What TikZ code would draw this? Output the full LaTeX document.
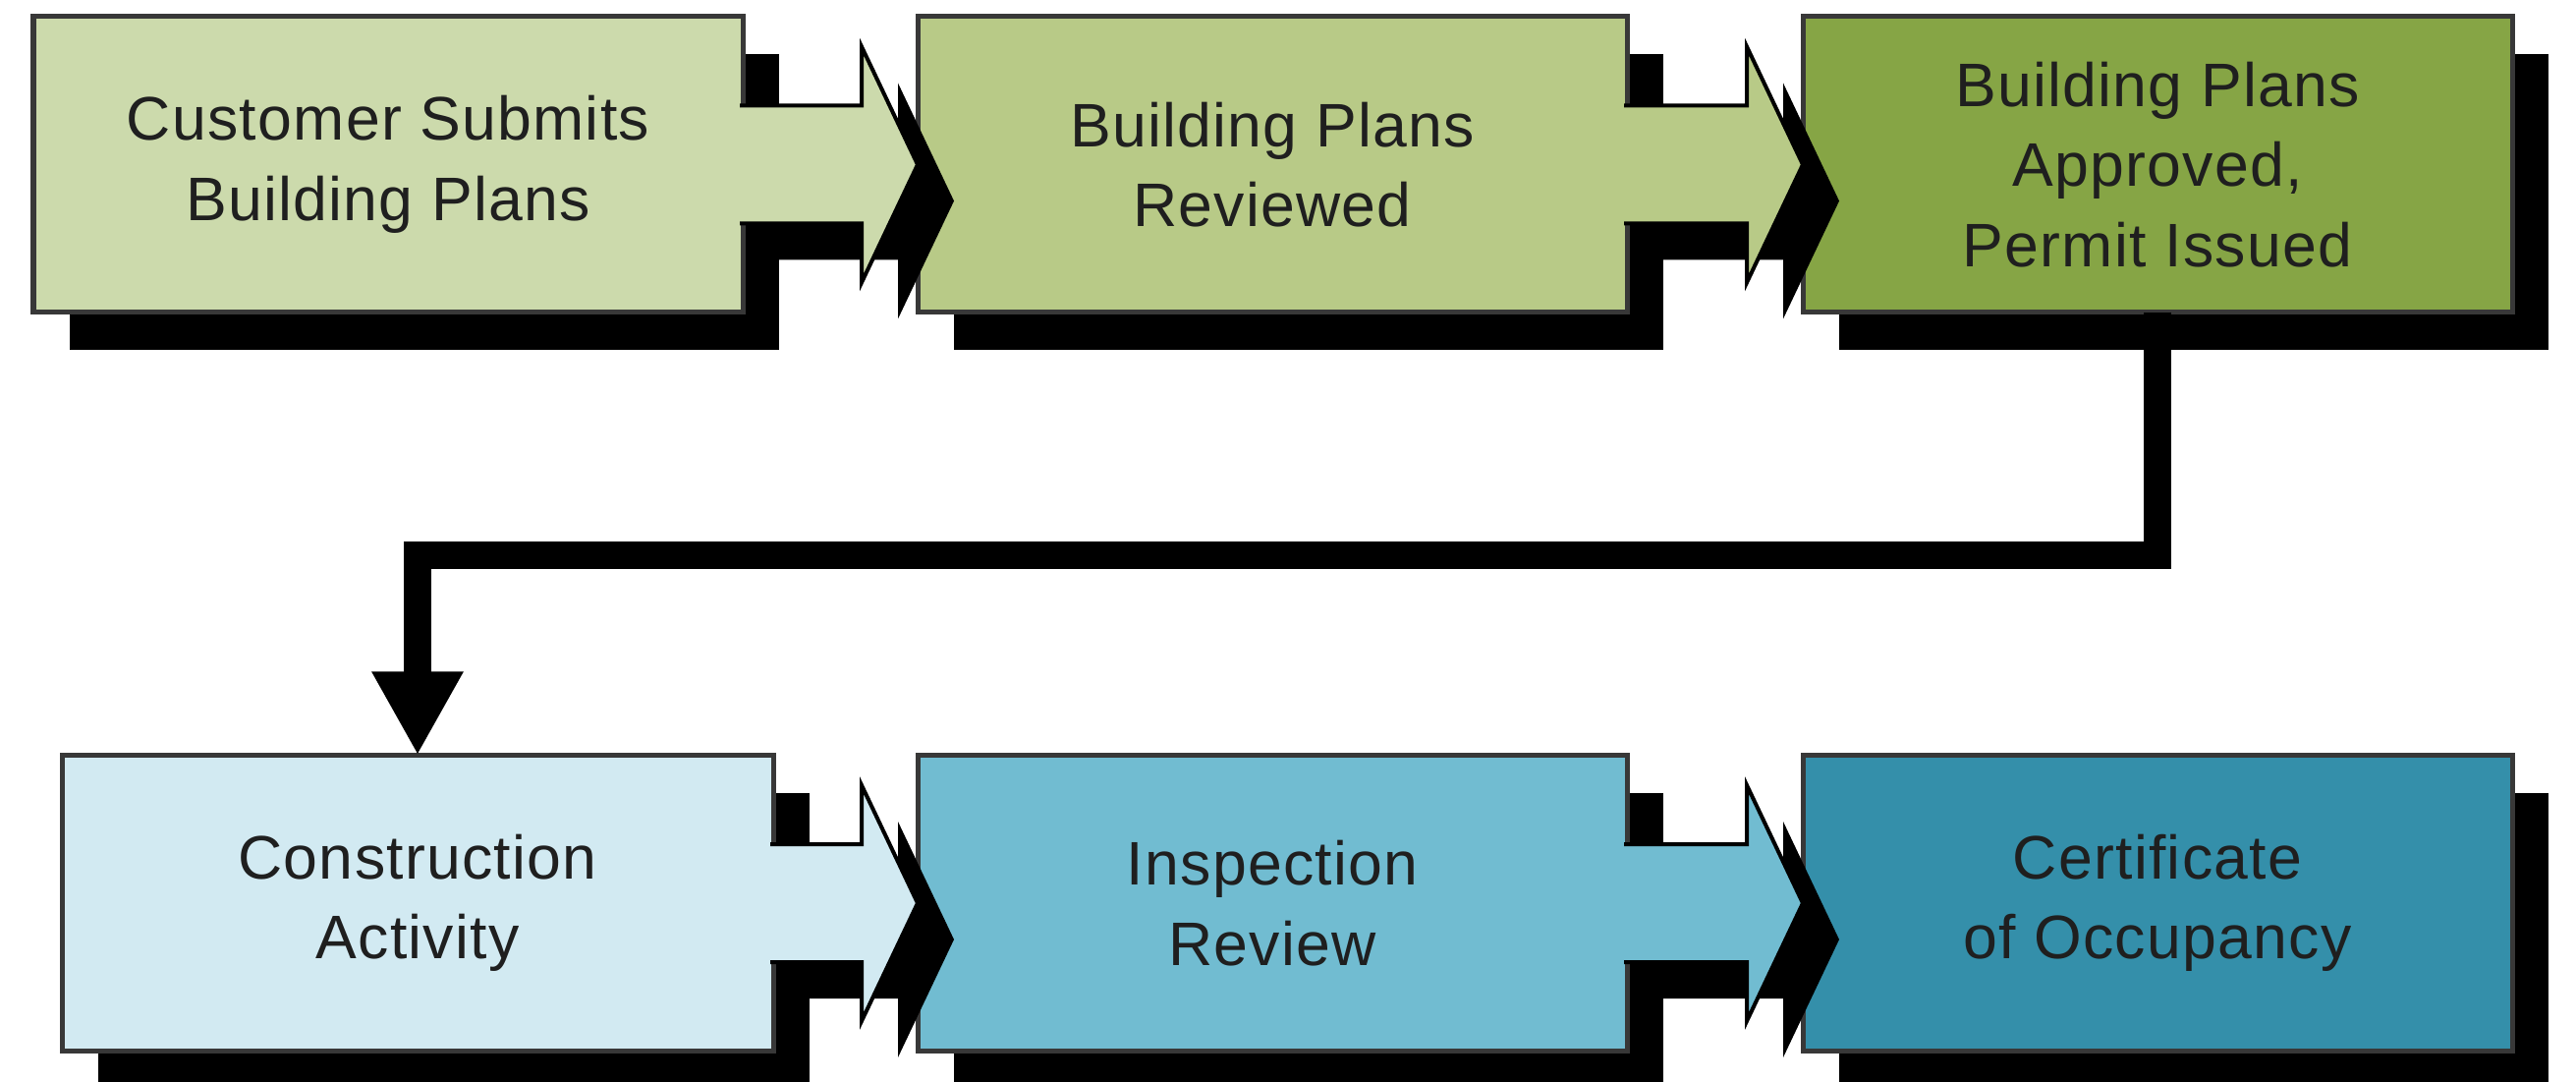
\documentclass[tikz,border=0pt]{standalone}
\usepackage{fontspec}
\setmainfont[LetterSpace=2]{Liberation Sans}
\usetikzlibrary{arrows.meta,calc,shadows}

\definecolor{stepA}{RGB}{204,218,172}
\definecolor{stepB}{RGB}{184,202,135}
\definecolor{stepC}{RGB}{134,165,69}
\definecolor{stepD}{RGB}{210,234,242}
\definecolor{stepE}{RGB}{113,188,209}
\definecolor{stepF}{RGB}{52,143,170}

\begin{document}
\begin{tikzpicture}[
    stepbox/.style={rectangle, draw=black!78, line width=0.05cm, minimum width=7.22cm,
        minimum height=3.01cm, inner sep=0pt, outer sep=0pt, align=center,
        text=black!88, font=\fontsize{17.8}{23.2}\selectfont,
        drop shadow={shadow xshift=0.37cm, shadow yshift=-0.38cm, fill=black, opacity=1}},
    flow/.style={draw=black, line width=0.04cm, line join=miter,
        drop shadow={shadow xshift=0.37cm, shadow yshift=-0.37cm, fill=black, opacity=1}},
    flowline/.style={line width=0.28cm, line join=miter, -{Triangle[length=0.85cm, width=0.87cm]}}
]
\useasboundingbox (0,0) rectangle (26.22,-11.01);

% Permit stage
\node[stepbox, fill=stepA] (submit) at (3.95,-1.675) {Customer Submits\\Building Plans};
\node[stepbox, fill=stepB] (review) at (12.95,-1.675) {Building Plans\\Reviewed};
\node[stepbox, fill=stepC] (permit) at (21.96,-1.675) {Building Plans\\Approved,\\Permit Issued};

% Construction stage
\node[stepbox, fill=stepD, minimum width=7.24cm] (build) at (4.25,-9.19) {Construction\\Activity};
\node[stepbox, fill=stepE] (inspect) at (12.95,-9.19) {Inspection\\Review};
\node[stepbox, fill=stepF] (occupancy) at (21.96,-9.19) {Certificate\\of Occupancy};

% Block arrows
\foreach \from/\to/\col in {submit/review/stepA, review/permit/stepB, build/inspect/stepD, inspect/occupancy/stepE}
  \filldraw[flow, fill=\col] ($(\from.east)+(-0.03,0.6)$) -- ($(\to.west)+(-0.57,0.6)$)
    -- ($(\to.west)+(-0.57,1.2)$) -- (\to.west) -- ($(\to.west)+(-0.57,-1.2)$)
    -- ($(\to.west)+(-0.57,-0.6)$) -- ($(\from.east)+(-0.03,-0.6)$);

% Return to second row
\draw[flowline] (permit.south) -- ++(0,-2.47) -| (build.north);

\end{tikzpicture}
\end{document}
